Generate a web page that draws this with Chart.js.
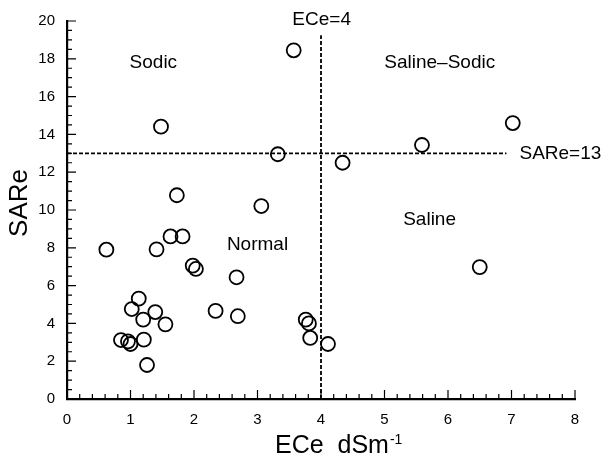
<!DOCTYPE html>
<html>
<head>
<meta charset="utf-8">
<script src="https://cdn.jsdelivr.net/npm/chart.js@4/dist/chart.umd.min.js"></script>
<style>
html, body { margin: 0; padding: 0; background: #fff; }
</style>
</head>
<body>
<canvas id="chart" width="605" height="459"></canvas>
<script>
// ECe (dS/m) and SARe
var ece = [0.62, 1.41, 1.63, 1.82, 1.98, 2.03, 2.67, 1.13, 1.02, 1.39, 1.20, 1.55, 2.34, 2.69,
    0.85, 0.96, 1.00, 1.21, 1.26, 3.76, 3.81, 3.83, 4.11, 6.50, 3.57, 1.48, 1.73, 3.06, 3.32,
    4.34, 5.59, 7.02];
var sare = [7.9, 7.92, 8.6, 8.6, 7.06, 6.88, 6.44, 5.31, 4.76, 4.6, 4.2, 3.95, 4.66, 4.38,
    3.12, 3.05, 2.91, 3.14, 1.8, 4.2, 4.0, 3.23, 2.91, 6.98, 18.45, 14.41, 10.78, 10.21, 12.95,
    12.5, 13.44, 14.6];

// threshold lines
var ecLimit = 4;
var sarLimit = 13;
var ecLineTop = 19.25;
var sarLineEnd = 6.92;

// zone labels, in data units
var zoneText = ['ECe=4', 'Sodic', 'Saline\u2013Sodic', 'SARe=13', 'Saline', 'Normal'];
var zoneX = [4.01, 1.36, 5.87, 7.77, 5.71, 3.0];
var zoneY = [20.04, 17.81, 17.81, 13.0, 9.5, 8.17];

var xTicks = [0, 1, 2, 3, 4, 5, 6, 7, 8];
var yTicks = [0, 2, 4, 6, 8, 10, 12, 14, 16, 18, 20];

var FONT = '"Liberation Sans", Arial, sans-serif';

var points = ece.map(function (v, i) { return { x: v, y: sare[i] }; });

var overlay = {
    id: 'overlay',
    afterDatasetsDraw: function (chart) {
        var ctx = chart.ctx;
        var xs = chart.scales.x, ys = chart.scales.y;
        var left = chart.chartArea.left, bottom = chart.chartArea.bottom;
        ctx.save();
        ctx.setLineDash([]);
        ctx.strokeStyle = '#000';
        ctx.lineWidth = 1.2;
        ctx.beginPath();
        // inward ticks on x: minor every 0.2, major every 1
        for (var i = 0; i <= 40; i++) {
            var px = xs.getPixelForValue(i * 0.2);
            var len = i % 5 === 0 ? 9 : 5;
            ctx.moveTo(px, bottom);
            ctx.lineTo(px, bottom - len);
        }
        // inward ticks on y: minor every 0.5, major every 2
        for (var j = 0; j <= 40; j++) {
            var py = ys.getPixelForValue(j * 0.5);
            var l2 = j % 4 === 0 ? 9 : 5;
            ctx.moveTo(left, py);
            ctx.lineTo(left + l2, py);
        }
        ctx.stroke();

        // zone labels
        ctx.fillStyle = '#000';
        ctx.font = '19px ' + FONT;
        ctx.textAlign = 'center';
        ctx.textBaseline = 'middle';
        zoneText.forEach(function (t, k) {
            ctx.fillText(t, xs.getPixelForValue(zoneX[k]), ys.getPixelForValue(zoneY[k]));
        });

        // y title
        ctx.save();
        ctx.translate(20, 203);
        ctx.rotate(-Math.PI / 2);
        ctx.font = '26px ' + FONT;
        ctx.fillText('SARe', 0, 0);
        ctx.restore();

        // x title with superscript
        ctx.textAlign = 'left';
        ctx.textBaseline = 'alphabetic';
        ctx.font = '25px ' + FONT;
        var main = 'ECe  dSm';
        ctx.fillText(main, 275, 453);
        var w = ctx.measureText(main).width;
        ctx.font = '14px ' + FONT;
        ctx.fillText('-1', 275 + w + 1, 444);
        ctx.restore();
    }
};

new Chart(document.getElementById('chart'), {
    type: 'scatter',
    data: {
        datasets: [{
            data: points,
            pointStyle: 'circle',
            pointRadius: 7,
            pointHoverRadius: 7,
            borderColor: '#000',
            backgroundColor: 'rgba(255,255,255,0)',
            borderWidth: 1.8
        }, {
            type: 'line',
            data: [{ x: ecLimit, y: 0 }, { x: ecLimit, y: ecLineTop }],
            borderColor: '#000',
            borderWidth: 1.8,
            borderDash: [4, 2],
            pointRadius: 0,
            fill: false
        }, {
            type: 'line',
            data: [{ x: 0, y: sarLimit }, { x: sarLineEnd, y: sarLimit }],
            borderColor: '#000',
            borderWidth: 1.8,
            borderDash: [4, 2],
            pointRadius: 0,
            fill: false
        }]
    },
    options: {
        responsive: false,
        devicePixelRatio: 1,
        animation: false,
        layout: { padding: { top: 21, right: 30, left: 0, bottom: 0 } },
        plugins: { legend: { display: false }, tooltip: { enabled: false } },
        scales: {
            x: {
                type: 'linear',
                min: 0,
                max: 8,
                afterBuildTicks: function (s) { s.ticks = xTicks.map(function (v) { return { value: v }; }); },
                afterFit: function (s) { s.height = 60; },
                ticks: { color: '#000', font: { size: 15, family: FONT }, padding: 12, maxRotation: 0 },
                grid: { display: false, drawTicks: false },
                border: { display: true, color: '#000', width: 2.2 }
            },
            y: {
                min: 0,
                max: 20,
                afterBuildTicks: function (s) { s.ticks = yTicks.map(function (v) { return { value: v }; }); },
                afterFit: function (s) { s.width = 67; },
                ticks: { color: '#000', font: { size: 15, family: FONT }, padding: 12 },
                grid: { display: false, drawTicks: false },
                border: { display: true, color: '#000', width: 2.2 }
            }
        }
    },
    plugins: [overlay]
});
</script>
</body>
</html>
